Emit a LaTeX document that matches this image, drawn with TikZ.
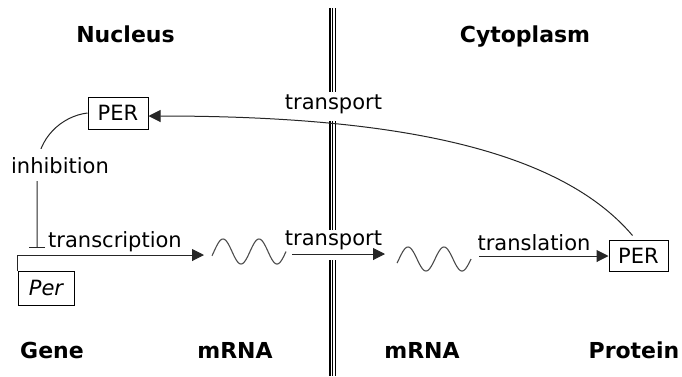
\documentclass[tikz,border=0pt]{standalone}
\usepackage{fontspec}
\setmainfont{DejaVu Sans}
\usetikzlibrary{arrows.meta}
\begin{document}
\begin{tikzpicture}[x=1pt,y=-1pt,
  hdr/.style={font=\bfseries\fontsize{22}{26}\selectfont, anchor=base, inner sep=0pt},
  lbl/.style={font=\fontsize{21}{25}\selectfont, anchor=base, inner sep=0pt},
  box/.style={draw=black, line width=1pt, font=\fontsize{21}{25}\selectfont, inner sep=0pt},
  conn/.style={draw=black!85, line width=1pt},
  arr/.style={conn, -{Triangle[length=12pt,width=12pt]}},
  wave/.style={draw=black!70, line width=1.1pt},
  memb/.style={draw=black, line width=1.2pt}]
\useasboundingbox (0,0) rectangle (682,376);
% membrane
\foreach \mx in {330,332.7,335.4}{
  \draw[memb] (\mx,8) -- (\mx,92);
  \draw[memb] (\mx,121) -- (\mx,230);
  \draw[memb] (\mx,260) -- (\mx,376);
}
% headers
\node[hdr] (nuc) at (125.5,42) {Nucleus};
\node[hdr] (cyt) at (525,42) {Cytoplasm};
\node[hdr] (gene) at (52,358) {Gene};
\node[hdr] (mrna1) at (235,358) {mRNA};
\node[hdr] (mrna2) at (422,358) {mRNA};
\node[hdr] (prot) at (634,358) {Protein};
% boxes
\node[box, minimum width=60pt, minimum height=32pt] (perT) at (118,113) {PER};
\node[box, minimum width=56pt, minimum height=34pt] (gen) at (46,288) {\itshape Per};
\node[box, minimum width=59pt, minimum height=31pt] (perB) at (638.5,255.5) {PER};
% waves (mRNA)
\draw[wave] plot[domain=212:286, samples=80] (\x, {251.5 - 12.5*sin(10*(\x-214))});
\draw[wave] plot[domain=397:471, samples=80] (\x, {259 - 12*sin(10*(\x-399))});
\coordinate (m1in) at (204,255);
\coordinate (m1out) at (292,254);
\coordinate (m2in) at (385,254);
\coordinate (m2out) at (479,256);
\coordinate (inhEnd) at (37,248);
% connectors
\draw[arr] (gen.north west) |- (m1in);
\draw[arr] (m1out) -- (m2in);
\draw[arr] (m2out) -- (m2out -| perB.west);
\draw[arr] ([xshift=-6pt,yshift=4pt]perB.north) .. controls (555,144) and (378,116) .. ([yshift=-3pt]perT.east);
\draw[conn, -{Bar[width=16pt]}] (perT.west) .. controls (62,116) and (37,138) .. (37,170) -- (inhEnd);
% labels
\node[lbl, fill=white, inner xsep=2pt, inner ysep=8pt] (inh) at (60,173) {inhibition};
\node[lbl] (trc) at (115,247.3) {transcription};
\node[lbl] (trp1) at (333.5,245) {transport};
\node[lbl] (trp2) at (333.5,109) {transport};
\node[lbl] (trl) at (534,250) {translation};
\end{tikzpicture}
\end{document}
